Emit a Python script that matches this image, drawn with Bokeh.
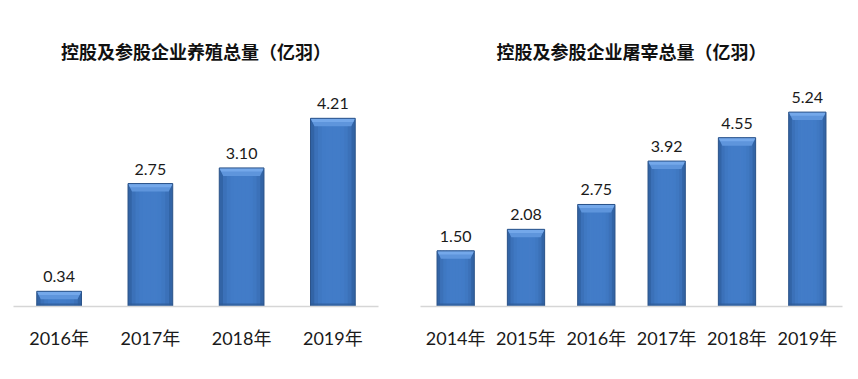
import numpy as np
from bokeh.plotting import figure
from bokeh.layouts import row
from bokeh.models import FixedTicker, Range1d, ColumnDataSource, LabelSet, Label
from bokeh.core.properties import value
from bokeh.embed import file_html
from bokeh.resources import INLINE

title_left = "控股及参股企业养殖总量（亿羽）"
years_left = ["2016年", "2017年", "2018年", "2019年"]
values_left = [0.34, 2.75, 3.10, 4.21]

title_right = "控股及参股企业屠宰总量（亿羽）"
years_right = ["2014年", "2015年", "2016年", "2017年", "2018年", "2019年"]
values_right = [1.50, 2.08, 2.75, 3.92, 4.55, 5.24]

FONT = "Lato, 'Noto Sans CJK SC', sans-serif"
TFONT = "'Noto Sans CJK SC', sans-serif"
FRAME_TOP = 30
FRAME_H = 306 - FRAME_TOP


def hexmix(c1, c2, t):
    a = [int(c1[i:i + 2], 16) for i in (1, 3, 5)]
    b = [int(c2[i:i + 2], 16) for i in (1, 3, 5)]
    m = [round(a[k] + (b[k] - a[k]) * t) for k in range(3)]
    return "#%02x%02x%02x" % tuple(m)


def panel(title, cats, vals, fig_w, b_left, b_right, ppy, bw):
    n = len(cats)
    ymax = FRAME_H / ppy
    p = figure(width=fig_w, height=370, x_range=Range1d(0, n), y_range=Range1d(0, ymax),
               output_backend="svg", toolbar_location=None, y_axis_location=None,
               min_border_left=b_left, min_border_right=b_right,
               min_border_top=FRAME_TOP, min_border_bottom=64)
    p.outline_line_color = None
    p.grid.visible = False
    p.background_fill_color = "white"
    p.border_fill_color = "white"

    frame_w = fig_w - b_left - b_right
    ppx = frame_w / n
    x = np.arange(n) + 0.5
    v = np.array(vals, dtype=float)

    # body as vertical gradient strips
    N = 12
    edge, center = "#2c5a98", "#427cc8"
    ov = 0.8 / ppx
    for i in range(N):
        t0 = -bw / 2 + i * bw / N
        t1 = t0 + bw / N
        tc = (i + 0.5) / N * 2 - 1
        col = hexmix(edge, center, 1 - tc ** 4)
        p.quad(left=x + t0, right=x + min(t1 + ov, bw / 2), bottom=0, top=v,
               fill_color=col, line_color=None)

    # darker bottom band
    bot = 3 / ppy
    p.quad(left=x - bw / 2, right=x + bw / 2, bottom=0, top=np.minimum(bot, v),
           fill_color="#2d5a94", line_color=None, fill_alpha=0.7)

    # top bevel
    cap = 8 / ppy
    side = 4 / ppx
    xs = [[xi - bw / 2, xi + bw / 2, xi + bw / 2 - side, xi - bw / 2 + side] for xi in x]
    ys = [[vi, vi, vi - cap, vi - cap] for vi in v]
    p.patches(xs, ys, fill_color="#5e95dc", line_color=None)
    xs2 = [[xi - bw / 2, xi + bw / 2, xi + bw / 2 - side * 0.5, xi - bw / 2 + side * 0.5] for xi in x]
    ys2 = [[vi, vi, vi - cap * 0.45, vi - cap * 0.45] for vi in v]
    p.patches(xs2, ys2, fill_color="#74a8ea", line_color=None)

    # outline
    p.quad(left=x - bw / 2, right=x + bw / 2, bottom=0, top=v,
           fill_color=None, line_color="#2a5288", line_width=1)

    src = ColumnDataSource(dict(x=x, y=v, t=["%.2f" % a for a in vals]))
    p.add_layout(LabelSet(x="x", y="y", text="t", source=src, text_align="center",
                          text_baseline="bottom", y_offset=9, text_font=value(FONT),
                          text_font_size=value("16px"), text_color=value("#1a1a1a")))

    p.xaxis.ticker = FixedTicker(ticks=list(x))
    p.xaxis.major_label_overrides = {float(xi): c for xi, c in zip(x, cats)}
    p.xaxis.major_tick_line_color = None
    p.xaxis.minor_tick_line_color = None
    p.xaxis.axis_line_color = "#d6d6d6"
    p.xaxis.axis_line_width = 1.5
    p.xaxis.major_label_standoff = 14
    p.xaxis.major_label_text_font = FONT
    p.xaxis.major_label_text_font_size = "18px"
    p.xaxis.major_label_text_color = "#1a1a1a"

    p.add_layout(Label(x=n / 2, y=ymax, y_offset=50 - FRAME_TOP - 40, text=title,
                       text_align="center", text_baseline="middle", text_font=TFONT,
                       text_font_size="18px", text_font_style="bold", text_color="#111111"))
    return p


p1 = panel(title_left, years_left, values_left, 418, 13, 40, 44.7, 0.49)
p2 = panel(title_right, years_right, values_right, 432, 2, 8, 37.1, 0.53)

layout = row(p1, p2)
open("out.html", "w").write(file_html(layout, INLINE))
